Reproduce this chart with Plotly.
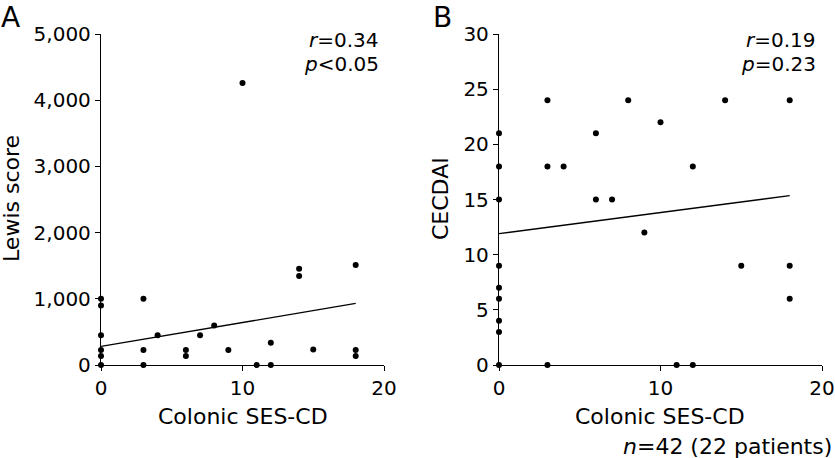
import plotly.graph_objects as go

W, H = 835, 458

# Panel A: Colonic SES-CD vs Lewis score
a_x = [0, 0, 0, 0, 0, 0, 3, 3, 3, 4, 6, 6, 7, 8, 9, 10, 11, 12, 12, 14, 14, 15, 18, 18, 18]
a_y = [1000, 900, 450, 225, 135, 0, 1000, 225, 0, 450, 225, 135, 450, 595, 225, 4260, 0, 335, 0, 1455, 1345, 235, 1510, 225, 135]
a_fit_x = [0, 18]
a_fit_y = [280, 930]

# Panel B: Colonic SES-CD vs CECDAI
b_x = [0, 0, 0, 0, 0, 0, 0, 0, 0, 3, 3, 3, 4, 6, 6, 7, 8, 9, 10, 11, 12, 12, 14, 15, 18, 18, 18]
b_y = [21, 18, 15, 9, 7, 6, 4, 3, 0, 24, 18, 0, 18, 21, 15, 15, 24, 12, 22, 0, 18, 0, 24, 9, 24, 9, 6]
b_fit_x = [0, 18]
b_fit_y = [11.9, 15.35]

x_ticks = [0, 10, 20]
a_ticks = [0, 1000, 2000, 3000, 4000, 5000]
a_tick_text = ["0", "1,000", "2,000", "3,000", "4,000", "5,000"]
b_ticks = [0, 5, 10, 15, 20, 25, 30]

FONT = "DejaVu Sans"

fig = go.Figure()
mk = dict(color="black", size=6)
fig.add_trace(go.Scatter(x=a_x, y=a_y, mode="markers", marker=mk, cliponaxis=False,
                         xaxis="x", yaxis="y", showlegend=False))
fig.add_trace(go.Scatter(x=a_fit_x, y=a_fit_y, mode="lines", line=dict(color="black", width=1.3),
                         xaxis="x", yaxis="y", showlegend=False))
fig.add_trace(go.Scatter(x=b_x, y=b_y, mode="markers", marker=mk, cliponaxis=False,
                         xaxis="x2", yaxis="y2", showlegend=False))
fig.add_trace(go.Scatter(x=b_fit_x, y=b_fit_y, mode="lines", line=dict(color="black", width=1.3),
                         xaxis="x2", yaxis="y2", showlegend=False))

ydom = [(H - 365) / H, (H - 34) / H]
axcommon = dict(showline=True, linecolor="black", linewidth=1.3, showgrid=False, zeroline=False,
                ticks="outside", ticklen=5, tickwidth=1.3, tickcolor="black", automargin=False,
                tickfont=dict(family=FONT, size=20, color="black"), fixedrange=True)

fig.update_layout(
    width=W, height=H,
    margin=dict(l=0, r=0, t=0, b=0, autoexpand=False),
    paper_bgcolor="white", plot_bgcolor="white",
    font=dict(family=FONT, color="black"),
    xaxis=dict(domain=[101 / W, 384 / W], range=[0, 20], tickvals=x_ticks, anchor="y", **axcommon),
    yaxis=dict(domain=ydom, range=[0, 5000], tickvals=a_ticks, ticktext=a_tick_text, anchor="x", **axcommon),
    xaxis2=dict(domain=[499 / W, 822 / W], range=[0, 20], tickvals=x_ticks, anchor="y2", **axcommon),
    yaxis2=dict(domain=ydom, range=[0, 30], tickvals=b_ticks, anchor="x2", **axcommon),
)

def ann(text, x, y, size, xanchor="center", angle=0, yanchor="middle"):
    fig.add_annotation(text=text, x=x / W, y=1 - y / H, xref="paper", yref="paper",
                       xanchor=xanchor, yanchor=yanchor, showarrow=False, textangle=angle,
                       borderpad=0, font=dict(family=FONT, size=size, color="black"))

ann("A", 10, 0, 28, yanchor="top")
ann("B", 442, 0, 28, yanchor="top")
ann("<i>r</i>=0.34", 380, 40, 20, "right")
ann("<i>p</i>&lt;0.05", 380, 64, 20, "right")
ann("<i>r</i>=0.19", 817, 40, 20, "right")
ann("<i>p</i>=0.23", 817, 64, 20, "right")
ann("Lewis score", 12, 199, 22, angle=-90)
ann("CECDAI", 441, 199, 22, angle=-90)
ann("Colonic SES-CD", 243, 416, 22)
ann("Colonic SES-CD", 660, 416, 22)
ann("<i>n</i>=42 (22 patients)", 833, 446, 22, "right")

fig.write_html("out.html", config={"displayModeBar": False},
               post_script="document.body.style.margin='0';document.body.style.overflow='hidden';")
